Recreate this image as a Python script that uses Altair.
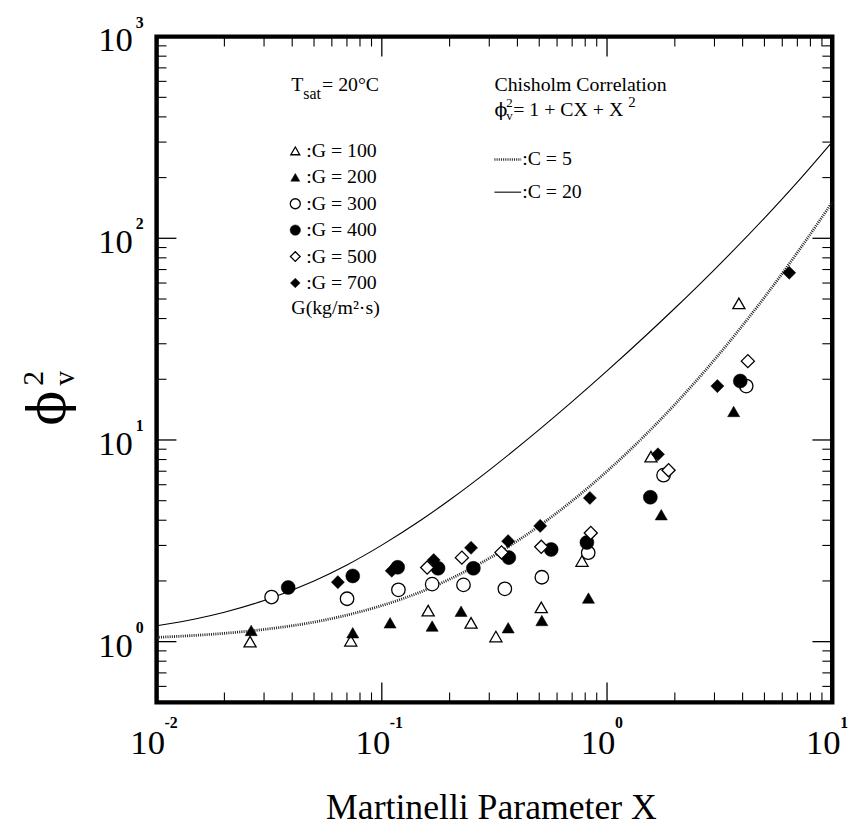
import altair as alt
import pandas as pd

# ---------------- data ----------------
g100_x = [0.026, 0.0728, 0.1606, 0.249, 0.321, 0.5105, 0.774, 1.567, 3.85]
g100_y = [1.00, 1.01, 1.425, 1.24, 1.06, 1.48, 2.51, 8.27, 47.6]

g200_x = [0.0263, 0.0743, 0.1088, 0.1673, 0.2249, 0.364, 0.5135, 0.827, 1.741, 3.65]
g200_y = [1.137, 1.107, 1.24, 1.194, 1.415, 1.172, 1.273, 1.645, 4.26, 13.85]

g300_x = [0.0324, 0.0701, 0.1185, 0.1673, 0.2305, 0.3518, 0.5135, 0.825, 1.782, 4.15]
g300_y = [1.664, 1.632, 1.807, 1.928, 1.912, 1.828, 2.086, 2.76, 6.69, 18.5]

g400_x = [0.0384, 0.0743, 0.1176, 0.1777, 0.255, 0.3664, 0.565, 0.814, 1.557, 3.905]
g400_y = [1.857, 2.117, 2.337, 2.31, 2.31, 2.61, 2.864, 3.10, 5.2, 19.6]

g500_x = [0.159, 0.2267, 0.34, 0.5105, 0.847, 1.876, 4.22]
g500_y = [2.33, 2.61, 2.77, 2.953, 3.46, 7.08, 24.6]

g700_x = [0.0638, 0.1107, 0.17, 0.249, 0.3638, 0.505, 0.839, 1.683, 3.09, 6.44]
g700_y = [1.972, 2.246, 2.54, 2.92, 3.15, 3.75, 5.16, 8.49, 18.5, 67.5]

# Chisholm correlation curves
curve_x = [0.01, 0.015, 0.02, 0.03, 0.05, 0.07, 0.1, 0.15, 0.2, 0.3, 0.5, 0.7,
           1.0, 1.5, 2.0, 3.0, 5.0, 7.0, 10.0]
c5_y = [1.05, 1.075, 1.10, 1.15, 1.25, 1.355, 1.51, 1.77, 2.04, 2.59, 3.75, 4.99,
        7.0, 10.75, 15.0, 25.0, 51.0, 85.0, 151.0]
c20_y = [1.20, 1.30, 1.40, 1.60, 2.00, 2.40, 3.01, 4.02, 5.04, 7.09, 11.25, 15.49,
         22.0, 33.25, 45.0, 70.0, 126.0, 190.0, 301.0]

x_decades = [0.01, 0.1, 1.0, 10.0]
x_exps = ["-2", "-1", "0", "1"]
y_decades = [1.0, 10.0, 100.0, 1000.0]
y_exps = ["0", "1", "2", "3"]
minor_mult = [2, 3, 4, 5, 6, 7, 8, 9]

groups = ["100", "200", "300", "400", "500", "700"]
legend_labels = [":G = 100", ":G = 200", ":G = 300", ":G = 400", ":G = 500", ":G = 700"]

# ---------------- layout ----------------
W, H = 682, 672
FONT = "Liberation Serif"
xs = alt.Scale(type="log", domain=[0.01, 10], nice=False)
ys = alt.Scale(type="log", domain=[0.5, 1000], nice=False)

x_minor = [m * d for d in [0.01, 0.1, 1.0] for m in minor_mult]
y_minor = [m * 0.1 for m in [5, 6, 7, 8, 9]] + [m * d for d in [1.0, 10.0, 100.0] for m in minor_mult]

layers = []

# curves
cdf = pd.DataFrame({"X": curve_x * 2, "phi": c5_y + c20_y,
                    "C": ["5"] * len(curve_x) + ["20"] * len(curve_x)})
layers.append(alt.Chart(cdf[cdf.C == "20"]).mark_line(color="black", strokeWidth=1.1, interpolate="monotone").encode(
    x=alt.X("X:Q", scale=xs, axis=None), y=alt.Y("phi:Q", scale=ys, axis=None)))
layers.append(alt.Chart(cdf[cdf.C == "5"]).mark_line(color="#222", strokeWidth=2.8, strokeDash=[1, 1.2], interpolate="monotone").encode(
    x=alt.X("X:Q", scale=xs, axis=None), y=alt.Y("phi:Q", scale=ys, axis=None)))

# data points
styles = {
    "100": dict(shape="triangle-up", filled=False, size=150),
    "200": dict(shape="triangle-up", filled=True, size=150),
    "300": dict(shape="circle", filled=False, size=185),
    "400": dict(shape="circle", filled=True, size=200),
    "500": dict(shape="diamond", filled=False, size=175),
    "700": dict(shape="diamond", filled=True, size=175),
}
series = {"100": (g100_x, g100_y), "200": (g200_x, g200_y), "300": (g300_x, g300_y),
          "400": (g400_x, g400_y), "500": (g500_x, g500_y), "700": (g700_x, g700_y)}

def pt(st, scale=1.0):
    if st["filled"]:
        return dict(shape=st["shape"], filled=True, fill="black", stroke="black", strokeWidth=0.5,
                    opacity=1, size=st["size"] * scale)
    return dict(shape=st["shape"], filled=False, fill="white", fillOpacity=1, stroke="black",
                strokeWidth=1.3, opacity=1, size=st["size"] * scale)

for g in groups:
    xv, yv = series[g]
    d = pd.DataFrame({"X": xv, "phi": yv})
    layers.append(alt.Chart(d).mark_point(**pt(styles[g])).encode(
        x=alt.X("X:Q", scale=xs, axis=None), y=alt.Y("phi:Q", scale=ys, axis=None)))

# ticks (inside the frame)
def xticks(vals, L, sw):
    d = pd.DataFrame({"v": vals})
    b = alt.Chart(d).mark_rule(color="black", strokeWidth=sw).encode(
        x=alt.X("v:Q", scale=xs, axis=None), y=alt.value(H), y2=alt.value(H - L))
    t = alt.Chart(d).mark_rule(color="black", strokeWidth=sw).encode(
        x=alt.X("v:Q", scale=xs, axis=None), y=alt.value(0), y2=alt.value(L))
    return [b, t]

def yticks(vals, L, sw):
    d = pd.DataFrame({"v": vals})
    l = alt.Chart(d).mark_rule(color="black", strokeWidth=sw).encode(
        y=alt.Y("v:Q", scale=ys, axis=None), x=alt.value(0), x2=alt.value(L))
    r = alt.Chart(d).mark_rule(color="black", strokeWidth=sw).encode(
        y=alt.Y("v:Q", scale=ys, axis=None), x=alt.value(W), x2=alt.value(W - L))
    return [l, r]

layers += xticks(x_decades, 20, 1.3) + xticks(x_minor, 10, 1.1)
layers += yticks(y_decades, 20, 1.3) + yticks(y_minor, 10, 1.1)

# tick labels with superscripts
xl = pd.DataFrame({"v": x_decades, "e": x_exps, "b": ["10"] * 4})
layers.append(alt.Chart(xl).mark_text(font=FONT, fontSize=35, align="center", baseline="alphabetic", dx=-9).encode(
    x=alt.X("v:Q", scale=xs, axis=None), y=alt.value(724), text="b:N"))
layers.append(alt.Chart(xl).mark_text(font=FONT, fontSize=16, fontWeight="bold", align="left", baseline="alphabetic", dx=8).encode(
    x=alt.X("v:Q", scale=xs, axis=None), y=alt.value(698), text="e:N"))

yl = pd.DataFrame({"v": y_decades, "e": y_exps, "b": ["10"] * 4})
layers.append(alt.Chart(yl).mark_text(font=FONT, fontSize=35, align="right", baseline="alphabetic", dy=15).encode(
    y=alt.Y("v:Q", scale=ys, axis=None), x=alt.value(-24), text="b:N"))
layers.append(alt.Chart(yl).mark_text(font=FONT, fontSize=16, fontWeight="bold", align="left", baseline="alphabetic", dy=-9).encode(
    y=alt.Y("v:Q", scale=ys, axis=None), x=alt.value(-21), text="e:N"))

# free text helper
def txt(s, x, y, size=20, align="left", baseline="middle", angle=0, weight="normal", font=FONT):
    kw = dict(font=font, fontSize=size, align=align, baseline=baseline, fontWeight=weight, color="black")
    if angle:
        kw["angle"] = angle
    return alt.Chart(pd.DataFrame({"t": [s]})).mark_text(**kw).encode(
        x=alt.value(x), y=alt.value(y), text="t:N")

# axis titles
layers.append(txt("Martinelli Parameter X", 338, 790, size=36, align="center", baseline="alphabetic"))
layers.append(txt("ϕ", -108, 375, size=52, align="center", angle=270, font="DejaVu Serif"))
layers.append(txt("2", -124, 345, size=30, align="center", angle=270))
layers.append(txt("v", -92, 345, size=30, align="center", angle=270))

# in-plot annotation: T_sat
layers.append(txt("T", 136, 49))
layers.append(txt("sat", 148, 58, size=16))
layers.append(txt("= 20°C", 167, 49))

# legend of G
leg_y = [115.3, 142, 168.7, 195.3, 222, 248.7]
for g, lab, yy in zip(groups, legend_labels, leg_y):
    st = styles[g]
    layers.append(alt.Chart(pd.DataFrame({"t": [lab]})).mark_point(**pt(st, 0.55)).encode(
        x=alt.value(140), y=alt.value(yy)))
    layers.append(txt(lab, 151, yy))
layers.append(txt("G(kg/m²·s)", 136, 274))

# Chisholm annotation
layers.append(txt("Chisholm Correlation", 341, 48.5))
layers.append(txt("ϕ", 341, 80, baseline="alphabetic", font="DejaVu Serif", size=19))
layers.append(txt("v", 353, 84, size=13, baseline="alphabetic"))
layers.append(txt("2", 353, 71, size=13, baseline="alphabetic"))
layers.append(txt("= 1 + CX + X", 360, 80, baseline="alphabetic"))
layers.append(txt("2", 476, 71, size=15, baseline="alphabetic"))

layers.append(alt.Chart(pd.DataFrame({"t": ["C=5"]})).mark_rule(color="#222", strokeWidth=2.6, strokeDash=[1, 1.2]).encode(
    x=alt.value(341), x2=alt.value(368), y=alt.value(124)))
layers.append(txt(":C = 5", 369, 124))
layers.append(alt.Chart(pd.DataFrame({"t": ["C=20"]})).mark_rule(color="black", strokeWidth=1.1).encode(
    x=alt.value(341), x2=alt.value(368), y=alt.value(157)))
layers.append(txt(":C = 20", 369, 157))

chart = alt.layer(*layers).properties(
    width=W, height=H,
    background="white",
    padding={"left": 150, "top": 25, "right": 26, "bottom": 131},
    autosize=alt.AutoSizeParams(type="none"),
).configure_view(stroke="black", strokeWidth=4.5)

chart.save("out.html", embed_options={"renderer": "svg", "actions": False})
